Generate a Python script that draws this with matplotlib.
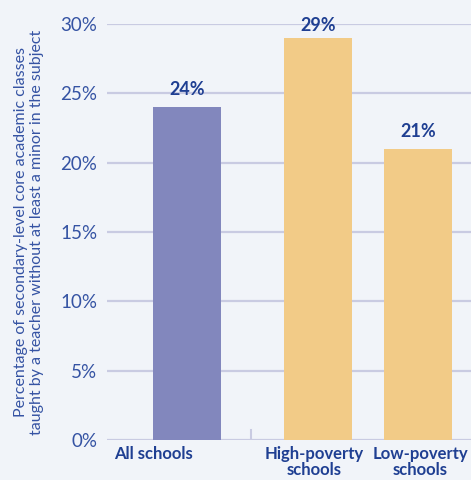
import matplotlib
matplotlib.use("Agg")
import matplotlib.pyplot as plt

categories = ["All schools", "High-poverty\nschools", "Low-poverty\nschools"]
values = [24, 29, 21]
value_labels = ["24%", "29%", "21%"]
yticks = [0, 5, 10, 15, 20, 25, 30]
ytick_labels = ["0%", "5%", "10%", "15%", "20%", "25%", "30%"]
ylabel = "Percentage of secondary-level core academic classes\ntaught by a teacher without at least a minor in the subject"

positions = [0, 1.31, 2.31]
colors = ["#8287bd", "#f2cb87", "#f2cb87"]
bg = "#f1f4f9"
grid_c = "#c9cbe2"
txt_c = "#3553a3"
bold_c = "#1f3f92"

plt.rcParams['font.family'] = ['Lato', 'DejaVu Sans']

fig = plt.figure(figsize=(4.71, 4.80), dpi=100, facecolor=bg)
ax = fig.add_axes([107/471, 40/480, 1 - 107/471, (440-24)/480])
ax.set_facecolor(bg)
ax.set_xlim(-0.8, 2.84)
ax.set_ylim(0, 30)
for s in ax.spines.values():
    s.set_visible(False)
ax.set_yticks(yticks)
ax.set_yticklabels(ytick_labels, fontsize=13.5, color=txt_c)
ax.tick_params(axis='y', length=0, pad=7)
ax.yaxis.grid(True, color=grid_c, linewidth=1.6)
ax.set_axisbelow(True)
ax.set_xticks([])

ax.bar(positions, values, width=0.68, color=colors, zorder=3)
for p, v, l in zip(positions, values, value_labels):
    ax.text(p, min(v + 0.85, 29.5), l, ha='center', va='baseline', fontsize=13,
            fontweight='bold', color=bold_c)

label_x = [-0.34, 1.27, 2.33]
for x, c in zip(label_x, categories):
    ax.text(x, -0.45, c, ha='center', va='top', fontsize=12, fontweight='bold',
            color=bold_c, linespacing=0.95, clip_on=False)

# separator tick
ax.plot([0.64, 0.64], [0, 0.75], color=grid_c, linewidth=1.5, zorder=2)

fig.text(29/471, 248/480, ylabel, rotation=90, ha='center', va='center',
         fontsize=11.5, color=txt_c, linespacing=1.15)

fig.savefig("out.png", dpi=100, facecolor=bg)
